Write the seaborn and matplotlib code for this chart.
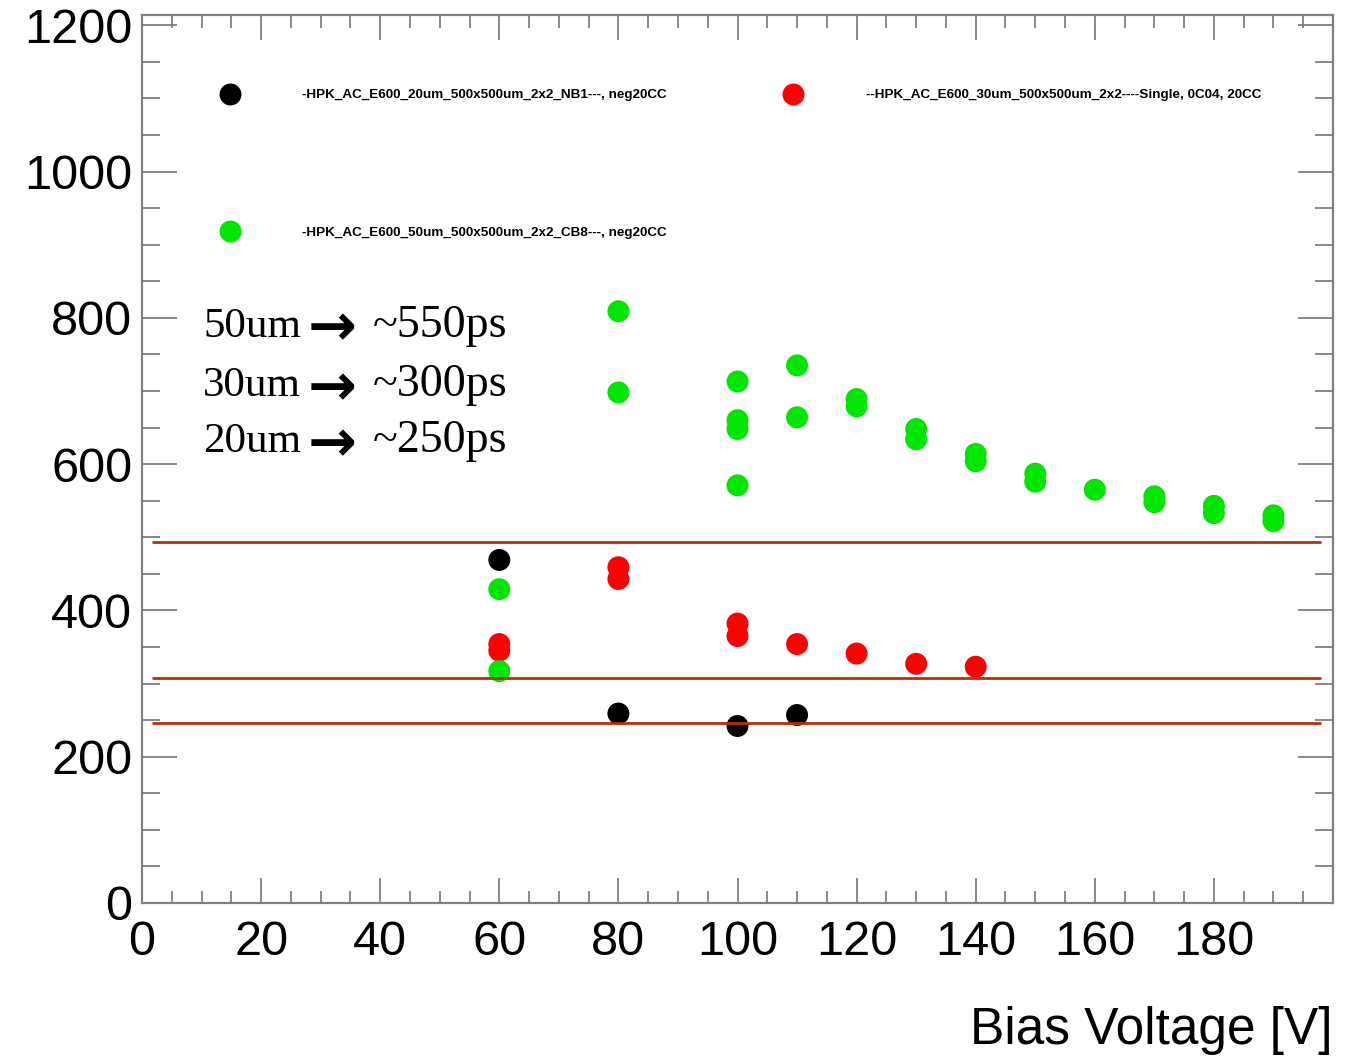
import numpy as np
import pandas as pd
import matplotlib
matplotlib.use("Agg")
import matplotlib.pyplot as plt
from matplotlib.lines import Line2D
from matplotlib.ticker import MultipleLocator
import seaborn as sns

# ---------------- data ----------------
series_names = [
    "-HPK_AC_E600_20um_500x500um_2x2_NB1---, neg20CC",
    "--HPK_AC_E600_30um_500x500um_2x2----Single, 0C04, 20CC",
    "-HPK_AC_E600_50um_500x500um_2x2_CB8---, neg20CC",
]
series_colors = ["#000000", "#ff0000", "#00e600"]

v20 = [60, 80, 100, 110]
t20 = [469, 259, 242, 257]

v30 = [60, 60, 80, 80, 100, 100, 110, 120, 130, 140]
t30 = [354, 345, 459, 443, 382, 365, 354, 341, 327, 323]

v50 = [60, 60, 80, 80, 100, 100, 100, 100, 110, 110, 120, 120, 130, 130,
       140, 140, 150, 150, 160, 170, 170, 180, 180, 190, 190]
t50 = [429, 317, 809, 698, 713, 660, 648, 571, 735, 664, 689, 679, 648, 634,
       614, 604, 587, 576, 565, 556, 548, 543, 533, 530, 522]

ref_levels = [493, 307, 246]
annot_left = ["50um", "30um", "20um"]
annot_right = ["~550ps", "~300ps", "~250ps"]
annot_y = [774, 693, 616]

x_ticklabels = ["0", "20", "40", "60", "80", "100", "120", "140", "160", "180"]
y_ticklabels = ["0", "200", "400", "600", "800", "1000", "1200"]

df = pd.DataFrame({
    "V": v20 + v30 + v50,
    "t": t20 + t30 + t50,
    "series": [series_names[0]] * len(v20) + [series_names[1]] * len(v30)
              + [series_names[2]] * len(v50),
})

# ---------------- figure ----------------
sns.set_theme(style="white")
plt.rcParams["font.family"] = ["Liberation Sans", "DejaVu Sans"]
plt.rcParams["text.color"] = "black"
plt.rcParams["axes.labelcolor"] = "black"

W, H = 1361, 1059
fig = plt.figure(figsize=(W / 100, H / 100), dpi=100)
ax = fig.add_axes([142 / W, 1 - 903 / H, (1333 - 142) / W, (903 - 15) / H])

palette = dict(zip(series_names, series_colors))
sns.scatterplot(data=df, x="V", y="t", hue="series", palette=palette,
                hue_order=series_names, s=250, linewidth=0, legend=False,
                ax=ax, zorder=3)

ax.hlines(ref_levels, 1.7, 198, color="#b3300c", lw=2, zorder=4)

ax.set_xlim(0, 200)
ax.set_ylim(0, 1214)
ax.xaxis.set_major_locator(MultipleLocator(20))
ax.xaxis.set_minor_locator(MultipleLocator(5))
ax.yaxis.set_major_locator(MultipleLocator(200))
ax.yaxis.set_minor_locator(MultipleLocator(50))
ax.set_xticks(np.arange(0, 181, 20))
ax.set_xticklabels(x_ticklabels)
ax.set_yticks(np.arange(0, 1201, 200))
ax.set_yticklabels(y_ticklabels)

tick_col = "#808080"
ax.tick_params(axis="x", which="major", direction="in", length=18, width=1.3,
               color=tick_col, top=True, bottom=True, labelsize=35, pad=12,
               labelcolor="black")
ax.tick_params(axis="x", which="minor", direction="in", length=9, width=1.3,
               color=tick_col, top=True, bottom=True)
ax.tick_params(axis="y", which="major", direction="in", length=25, width=1.3,
               color=tick_col, left=True, right=True, labelsize=35, pad=7,
               labelcolor="black")
ax.tick_params(axis="y", which="minor", direction="in", length=13, width=1.3,
               color=tick_col, left=True, right=True)
for sp in ax.spines.values():
    sp.set_color(tick_col)
    sp.set_linewidth(1.6)

ax.set_ylabel("")
ax.set_xlabel("Bias Voltage [V]", fontsize=37, loc="right", labelpad=30,
              color="black")

# annotation text
for yl, lt, rt in zip(annot_y, annot_left, annot_right):
    ax.text(10.3, yl, lt, fontsize=31, family="Liberation Serif",
            color="black", ha="left", va="baseline", zorder=5)
    ax.text(32.0, yl - 12, "\u2192", fontsize=42, family="DejaVu Sans",
            fontweight="bold", color="black", ha="center", va="baseline",
            zorder=5)
    ax.text(38.8, yl, rt, fontsize=33, family="Liberation Serif",
            color="black", ha="left", va="baseline", zorder=5)

# legend
order = [0, 2, 1]
handles = [Line2D([], [], ls="", marker="o", markersize=15.8,
                  markerfacecolor=series_colors[i], markeredgewidth=0)
           for i in order]
labels = [series_names[i] for i in order]
fs = 9.7
leg = fig.legend(handles, labels, loc="upper left",
                 bbox_to_anchor=(223.4 / W, 1 - 89 / H), ncol=2,
                 frameon=False, borderpad=0, borderaxespad=0,
                 handlelength=1.0, handletextpad=4.85, columnspacing=8.9,
                 labelspacing=9.3, prop={"family": "Liberation Sans",
                                         "weight": "bold", "size": fs})
for t in leg.get_texts():
    t.set_color("black")

fig.savefig("out.png", dpi=100)
